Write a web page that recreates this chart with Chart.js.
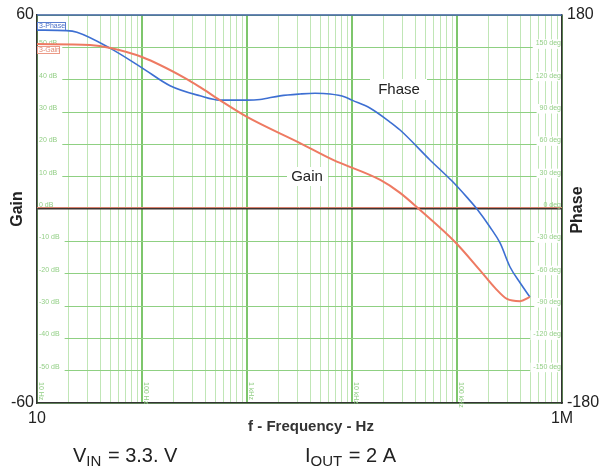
<!DOCTYPE html>
<html>
<head>
<meta charset="utf-8">
<script src="https://cdn.jsdelivr.net/npm/chart.js@4.4.1/dist/chart.umd.min.js"></script>
<style>
  html, body { margin: 0; padding: 0; background: #fff; }
  #wrap { width: 603px; height: 473px; }
</style>
</head>
<body>
<div id="wrap"><canvas id="c" width="603" height="473"></canvas></div>
<script>
// gain curve (dB)
const gainFreq = [10, 32, 50, 100, 257, 357, 550, 1000, 3200, 6600, 18600, 28700, 44500, 95800, 165000, 230000, 299000, 398000, 495000];
const gainDb = [51, 50.7, 49.8, 47, 40.5, 37.7, 33.7, 28.5, 20.4, 15.2, 9.0, 5, -0.3, -10.2, -18.9, -24.4, -27.8, -28.5, -27.2];

// phase curve (deg)
const phaseFreq = [10, 19, 24, 50, 100, 185, 357, 550, 1000, 1330, 2060, 3200, 4450, 6180, 8570, 10000, 14800, 23000, 28700, 55300, 91600, 124000, 155000, 206000, 257000, 320000, 400000, 495000];
const phaseDeg = [166, 165.5, 164, 149, 131, 114.4, 105, 101, 101, 101.6, 105, 106.7, 107.4, 106.7, 104, 101, 93.7, 80.7, 73.3, 45.5, 25, 11, 0, -16.7, -31.5, -53.8, -68.7, -81.7];

// axis ticks
const freqTicks = [];
for (let d = 10; d < 1e6; d *= 10) {
  for (let k = 1; k < 10; k++) freqTicks.push(d * k);
}
freqTicks.push(1e6);
const dbGridLabels = [50, 40, 30, 20, 10, 0, -10, -20, -30, -40, -50];
const degGridLabels = [150, 120, 90, 60, 30, 0, -30, -60, -90, -120, -150];
const decadeLabels = [[10, '10 Hz'], [100, '100 Hz'], [1000, '1 kHz'], [10000, '10 kHz'], [100000, '100 kHz']];

const GREEN_TXT = '#93cf86';
const isDecade = v => Math.abs(Math.log10(v) - Math.round(Math.log10(v))) < 1e-9;

// inner grid labels, legend boxes, titles
const decorPlugin = {
  id: 'decor',
  beforeDatasetsDraw(chart) {
    const { ctx, chartArea: a, scales } = chart;
    ctx.save();
    // thin red line on top of the 0 dB line
    const y0 = scales.y.getPixelForValue(0);
    ctx.strokeStyle = '#d9826e';
    ctx.lineWidth = 1;
    ctx.beginPath();
    ctx.moveTo(a.left, y0 - 1.5);
    ctx.lineTo(a.right, y0 - 1.5);
    ctx.stroke();

    ctx.font = '7px "Liberation Sans", Arial, sans-serif';
    ctx.textBaseline = 'middle';
    // dB labels on left
    dbGridLabels.forEach(v => {
      const y = scales.y.getPixelForValue(v);
      const t = v + ' dB';
      const w = ctx.measureText(t).width;
      if (v !== 0) {
        ctx.fillStyle = '#fff';
        ctx.fillRect(a.left + 1, y - 8, w + 6, 9.5);
      }
      ctx.fillStyle = GREEN_TXT;
      ctx.textAlign = 'left';
      ctx.fillText(t, a.left + 2, y - 4);
    });
    // deg labels on right
    degGridLabels.forEach(v => {
      const y = scales.y2.getPixelForValue(v);
      const t = v + ' deg';
      const w = ctx.measureText(t).width;
      if (v !== 0) {
        ctx.fillStyle = '#fff';
        ctx.fillRect(a.right - w - 4, y - 8, w + 3, 9.5);
      }
      ctx.fillStyle = GREEN_TXT;
      ctx.textAlign = 'right';
      ctx.fillText(t, a.right - 1, y - 4);
    });
    // rotated frequency labels
    decadeLabels.forEach(([f, t]) => {
      const x = scales.x.getPixelForValue(f);
      ctx.save();
      ctx.translate(x + 4, a.bottom - 21);
      ctx.rotate(Math.PI / 2);
      ctx.textAlign = 'left';
      ctx.fillStyle = GREEN_TXT;
      ctx.fillText(t, 0, 0);
      ctx.restore();
    });
    // legend boxes
    ctx.textAlign = 'left';
    ctx.fillStyle = '#fff';
    ctx.fillRect(a.left, a.top + 7, 29, 8);
    ctx.strokeStyle = '#5b7fd0';
    ctx.lineWidth = 1;
    ctx.strokeRect(a.left + 0.5, a.top + 7.5, 28, 8);
    ctx.fillStyle = '#4a6fc8';
    ctx.fillText('3-Phase', a.left + 2, a.top + 11.5);
    ctx.fillStyle = '#fff';
    ctx.fillRect(a.left, a.top + 31, 23, 7);
    ctx.strokeStyle = '#ec9a86';
    ctx.strokeRect(a.left + 0.5, a.top + 31.5, 22, 7);
    ctx.fillStyle = '#e08a74';
    ctx.fillText('3-Gain', a.left + 2, a.top + 35);
    ctx.restore();
  },
  afterDraw(chart) {
    const { ctx, chartArea: a } = chart;
    ctx.save();
    // top border
    ctx.strokeStyle = '#3a5e9e';
    ctx.lineWidth = 1.5;
    ctx.beginPath();
    ctx.moveTo(a.left, a.top);
    ctx.lineTo(a.right, a.top);
    ctx.stroke();
    // curve annotations
    ctx.font = '15px "Liberation Sans", Arial, sans-serif';
    ctx.textAlign = 'center';
    ctx.textBaseline = 'middle';
    ctx.fillStyle = '#fff';
    ctx.fillRect(370, 79, 57, 21);
    ctx.fillRect(287, 167, 41, 19);
    ctx.fillStyle = '#222';
    ctx.fillText('Fhase', 399, 90);
    ctx.fillText('Gain', 307, 177);
    // axis titles
    ctx.font = 'bold 16px "Liberation Sans", Arial, sans-serif';
    ctx.save();
    ctx.translate(18, 209);
    ctx.rotate(-Math.PI / 2);
    ctx.fillText('Gain', 0, 0);
    ctx.restore();
    ctx.save();
    ctx.translate(578, 210);
    ctx.rotate(-Math.PI / 2);
    ctx.fillText('Phase', 0, 0);
    ctx.restore();
    ctx.font = 'bold 15px "Liberation Sans", Arial, sans-serif';
    ctx.fillStyle = '#333';
    ctx.fillText('f - Frequency - Hz', 311, 427);
    // operating conditions
    ctx.fillStyle = '#222';
    ctx.textAlign = 'left';
    ctx.textBaseline = 'alphabetic';
    const sub = (x, y, main, s, rest) => {
      ctx.font = '20px "Liberation Sans", Arial, sans-serif';
      ctx.fillText(main, x, y);
      x += ctx.measureText(main).width;
      ctx.font = '15px "Liberation Sans", Arial, sans-serif';
      ctx.fillText(s, x, y + 4);
      x += ctx.measureText(s).width + 1;
      ctx.font = '20px "Liberation Sans", Arial, sans-serif';
      ctx.fillText(rest, x, y);
    };
    sub(73, 462, 'V', 'IN', ' = 3.3. V');
    sub(305, 462, 'I', 'OUT', ' = 2 A');
    ctx.restore();
  }
};

const ctx = document.getElementById('c').getContext('2d');
new Chart(ctx, {
  type: 'line',
  data: {
    datasets: [
      {
        label: 'Gain',
        data: gainFreq.map((f, i) => ({ x: f, y: gainDb[i] })),
        yAxisID: 'y',
        borderColor: '#ee7a62',
        borderWidth: 2,
        pointRadius: 0,
        cubicInterpolationMode: 'monotone'
      },
      {
        label: 'Phase',
        data: phaseFreq.map((f, i) => ({ x: f, y: phaseDeg[i] })),
        yAxisID: 'y2',
        borderColor: '#3d6fd2',
        borderWidth: 1.6,
        pointRadius: 0,
        cubicInterpolationMode: 'monotone'
      }
    ]
  },
  options: {
    responsive: false,
    devicePixelRatio: 1,
    animation: false,
    layout: { padding: { top: 15, left: 0, right: 0, bottom: 0 } },
    plugins: { legend: { display: false }, tooltip: { enabled: false } },
    scales: {
      x: {
        type: 'logarithmic',
        min: 10,
        max: 1e6,
        afterBuildTicks: s => { s.ticks = freqTicks.map(v => ({ value: v })); },
        afterFit: s => { s.height = 70; },
        ticks: {
          autoSkip: false,
          maxRotation: 0,
          padding: 6,
          color: '#222',
          font: { family: '"Liberation Sans", Arial, sans-serif', size: 16 },
          callback: v => v === 10 ? '10' : (v === 1e6 ? '1M' : '')
        },
        grid: {
          drawTicks: false,
          color: c => isDecade(c.tick.value) ? '#7ec66c' : '#c0e6b6',
          lineWidth: c => isDecade(c.tick.value) ? 2 : 1
        },
        border: { color: '#333', width: 1.5 }
      },
      y: {
        position: 'left',
        min: -60,
        max: 60,
        afterFit: s => { s.width = 37; },
        ticks: {
          stepSize: 10,
          padding: 3,
          color: '#222',
          font: { family: '"Liberation Sans", Arial, sans-serif', size: 16 },
          callback: v => (v === 60 || v === -60) ? String(v) : ''
        },
        grid: {
          drawTicks: false,
          color: c => c.tick.value === 0 ? '#3e3431' : '#8fd082',
          lineWidth: c => c.tick.value === 0 ? 1.5 : 1
        },
        border: { color: '#333', width: 1.5 }
      },
      y2: {
        position: 'right',
        min: -180,
        max: 180,
        afterFit: s => { s.width = 41; },
        afterBuildTicks: s => { s.ticks = [{ value: -180 }, { value: 180 }]; },
        ticks: {
          padding: 5,
          color: '#222',
          font: { family: '"Liberation Sans", Arial, sans-serif', size: 16 },
          callback: v => String(v)
        },
        grid: { display: false, drawTicks: false },
        border: { color: '#333', width: 1.5 }
      }
    }
  },
  plugins: [decorPlugin]
});
</script>
</body>
</html>
